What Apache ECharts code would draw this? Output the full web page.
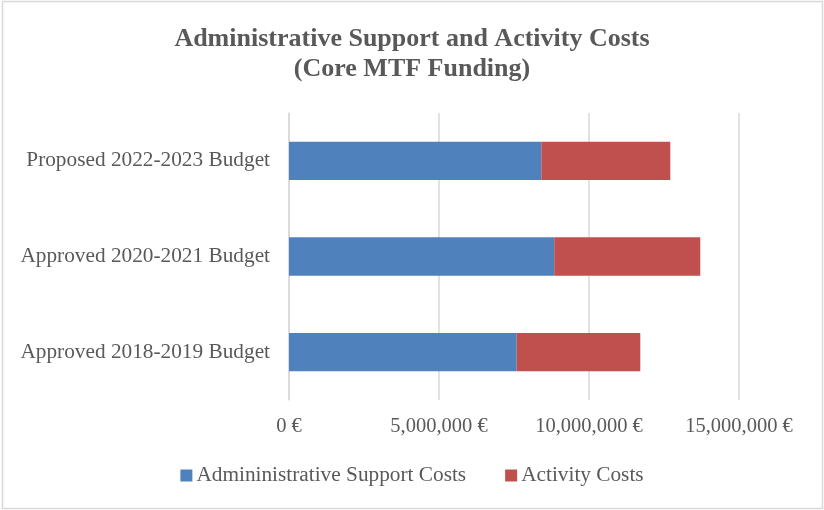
<!DOCTYPE html>
<html>
<head>
<meta charset="utf-8">
<script src="https://cdn.jsdelivr.net/npm/echarts@6/dist/echarts.min.js"></script>
<style>
html,body{margin:0;padding:0;background:#fff;}
#chart{width:824px;height:510px;}
</style>
</head>
<body>
<div id="chart"></div>
<script>
const categories = ['Approved 2018-2019 Budget', 'Approved 2020-2021 Budget', 'Proposed 2022-2023 Budget'];
const adminCosts = [7590000, 8840000, 8410000];
const activityCosts = [4120000, 4870000, 4300000];
const seriesNames = ['Admininistrative Support Costs', 'Activity Costs'];
const titleLines = ['Administrative Support and Activity Costs', '(Core MTF Funding)'];

const font = '"Liberation Serif", "DejaVu Serif", serif';
const chart = echarts.init(document.getElementById('chart'), null, {renderer: 'canvas'});
chart.setOption({
  animation: false,
  backgroundColor: '#fff',
  textStyle: {fontFamily: font},
  graphic: [{
    type: 'rect',
    shape: {x: 2.5, y: 1.5, width: 820, height: 507},
    style: {fill: 'none', stroke: '#d9d9d9', lineWidth: 1.5},
    silent: true
  }],
  title: {
    text: titleLines.join('\n'),
    left: 'center',
    top: 19,
    textStyle: {fontFamily: font, fontSize: 26, fontWeight: 'bold', color: '#595959', lineHeight: 30}
  },
  legend: {
    bottom: 19,
    left: 'center',
    itemWidth: 12,
    itemHeight: 12,
    itemGap: 39,
    icon: 'rect',
    textStyle: {fontFamily: font, fontSize: 21.3, color: '#595959', padding: [0, 0, 0, -1]},
    data: seriesNames
  },
  grid: {left: 289, right: 85, top: 113, bottom: 110, containLabel: false},
  xAxis: {
    type: 'value',
    min: 0,
    max: 15000000,
    interval: 5000000,
    axisLine: {show: false},
    axisTick: {show: false},
    splitLine: {lineStyle: {color: '#d9d9d9', width: 1.5}},
    axisLabel: {
      fontFamily: font, fontSize: 20.5, color: '#595959', margin: 16,
      formatter: v => v.toLocaleString('en-US') + ' €'
    }
  },
  yAxis: {
    type: 'category',
    data: categories,
    axisLine: {show: true, lineStyle: {color: '#d9d9d9', width: 1.5}},
    axisTick: {show: false},
    axisLabel: {fontFamily: font, fontSize: 21.3, color: '#595959', margin: 19, padding: [8, 0, 0, 0]}
  },
  series: [
    {
      name: seriesNames[0], type: 'bar', stack: 'total', data: adminCosts,
      barCategoryGap: '60%',
      itemStyle: {color: '#4f81bd'}
    },
    {
      name: seriesNames[1], type: 'bar', stack: 'total', data: activityCosts,
      barCategoryGap: '60%',
      itemStyle: {color: '#c0504d'}
    }
  ]
});
</script>
</body>
</html>
